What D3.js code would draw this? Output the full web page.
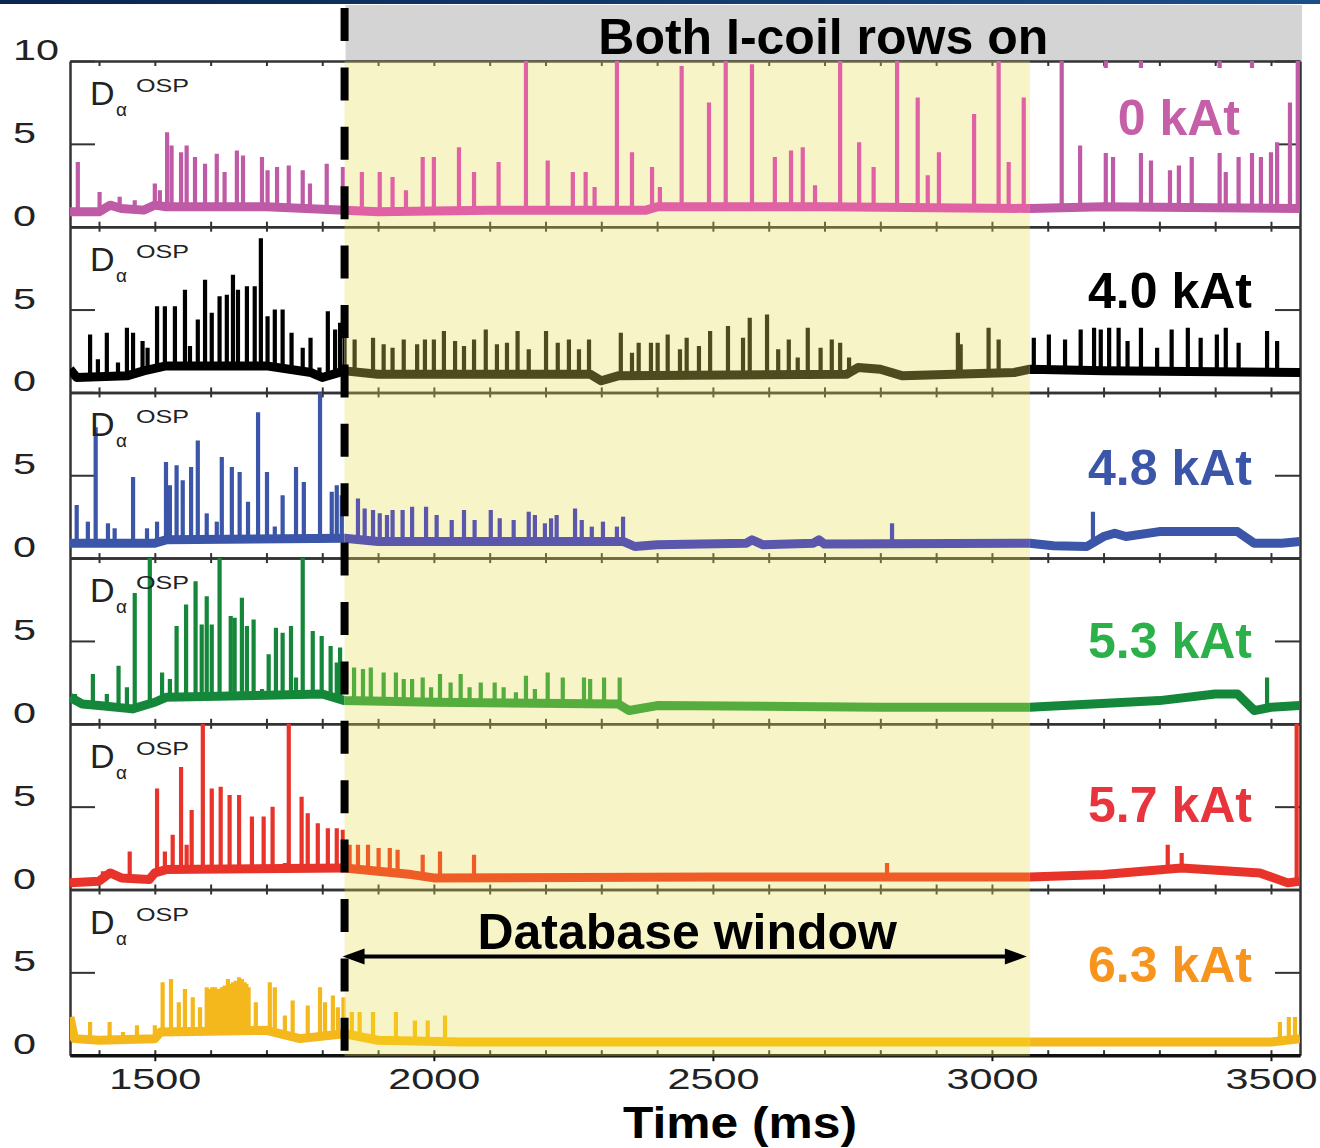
<!DOCTYPE html>
<html>
<head>
<meta charset="utf-8">
<script src="https://cdn.jsdelivr.net/npm/d3@7"></script>
<style>
  body { margin: 0; background: #fff; }
  svg { display: block; font-family: "Liberation Sans", Arial, sans-serif; }
</style>
</head>
<body>
<svg id="chart" width="1320" height="1148"></svg>
<script>
// ---- data ----
const timeDomain = [1348, 3552];          // ms
const databaseWindow = [1840, 3068];      // ms, I-coil flat-top used for database
const xTickValues = [1500, 2000, 2500, 3000, 3500];
const xMinorTicks = [1400, 1500, 1600, 1700, 1800, 1900, 2000, 2100, 2200, 2300, 2400,
  2500, 2600, 2700, 2800, 2900, 3000, 3100, 3200, 3300, 3400, 3500];
const yTickValues = [0, 5, 10];
const coilCurrents = ["0 kAt", "4.0 kAt", "4.8 kAt", "5.3 kAt", "5.7 kAt", "6.3 kAt"];

// baseline level of each D-alpha trace [time, value]
const baseline0 = [[1348, 0.9], [1400, 0.9], [1420, 1.3], [1440, 1.1], [1480, 1.0], [1500, 1.3], [1520, 1.2],
  [1700, 1.2], [1840, 1.0], [1900, 0.9], [2100, 1.0], [2380, 1.0], [2400, 1.2], [2700, 1.2], [3068, 1.1],
  [3200, 1.2], [3552, 1.1]];
const baseline1 = [[1348, 1.4], [1360, 0.9], [1450, 1.0], [1480, 1.3], [1520, 1.6], [1700, 1.6], [1780, 1.2],
  [1800, 0.9], [1840, 1.3], [1900, 1.1], [2280, 1.1], [2300, 0.7], [2330, 1.0], [2740, 1.1], [2760, 1.5],
  [2800, 1.4], [2840, 1.0], [3040, 1.2], [3068, 1.4], [3200, 1.3], [3552, 1.2]];
const baseline2 = [[1348, 0.9], [1500, 0.9], [1520, 1.1], [1840, 1.2], [1900, 1.0], [2340, 1.0], [2360, 0.7],
  [2400, 0.8], [2560, 0.9], [2570, 1.1], [2590, 0.8], [2680, 0.9], [2690, 1.1], [2700, 0.85], [3068, 0.9],
  [3110, 0.75], [3170, 0.7], [3200, 1.3], [3220, 1.5], [3240, 1.3], [3300, 1.6], [3440, 1.6], [3470, 0.9],
  [3520, 0.9], [3552, 1.0]];
const baseline3 = [[1348, 1.6], [1370, 1.2], [1400, 1.1], [1460, 0.9], [1500, 1.3], [1520, 1.6], [1800, 1.8],
  [1840, 1.4], [2000, 1.3], [2330, 1.2], [2350, 0.8], [2400, 1.1], [2800, 1.0], [3068, 1.0], [3300, 1.4],
  [3400, 1.8], [3440, 1.8], [3470, 0.8], [3500, 1.0], [3552, 1.1]];
const baseline4 = [[1348, 0.4], [1400, 0.5], [1420, 1.0], [1440, 0.7], [1490, 0.6], [1500, 1.0], [1520, 1.2],
  [1840, 1.3], [1960, 0.9], [2000, 0.7], [2500, 0.75], [3068, 0.75], [3200, 0.9], [3340, 1.3], [3480, 1.0],
  [3530, 0.4], [3552, 0.5]];
const baseline5 = [[1348, 2.3], [1356, 1.0], [1400, 0.9], [1500, 1.0], [1510, 1.4], [1700, 1.5], [1760, 1.0],
  [1840, 1.3], [1900, 0.9], [2050, 0.8], [3068, 0.8], [3500, 0.8], [3552, 1.0]];

// ELM spikes [time, peak value]
const spikes0 = [[1362, 3.9], [1401, 2.1], [1437, 1.8], [1464, 1.6], [1500, 2.6], [1509, 2.2], [1522, 5.7],
  [1530, 4.9], [1547, 4.5], [1557, 4.9], [1572, 4.2], [1590, 3.8], [1611, 4.4], [1625, 3.3], [1647, 4.6],
  [1658, 4.3], [1692, 4.2], [1702, 3.4], [1719, 3.6], [1740, 3.7], [1765, 3.4], [1778, 2.6], [1808, 3.8],
  [1837, 3.6], [1871, 3.3], [1903, 3.3], [1926, 3.0], [1950, 2.2], [1980, 4.2], [2000, 4.2], [2045, 4.8],
  [2072, 3.3], [2116, 3.9], [2165, 11], [2204, 4.0], [2249, 3.3], [2272, 3.3], [2288, 2.4], [2328, 11],
  [2355, 4.5], [2391, 3.6], [2405, 2.4], [2444, 9.7], [2493, 7.5], [2523, 11], [2570, 9.8], [2611, 4.2],
  [2640, 4.6], [2661, 4.8], [2683, 2.5], [2728, 11], [2762, 5.1], [2788, 3.6], [2830, 11], [2867, 7.8],
  [2885, 3.1], [2905, 4.5], [2968, 6.8], [3012, 11], [3030, 3.9], [3057, 7.8], [3125, 11], [3158, 4.9],
  [3204, 11], [3217, 4.2], [3267, 11], [3285, 4.0], [3319, 3.4], [3335, 3.7], [3358, 4.2], [3408, 11],
  [3419, 3.3], [3442, 4.2], [3466, 11], [3482, 4.2], [3500, 4.5], [3511, 5.1], [3534, 7.5], [3548, 11]];
const spikes1 = [[1384, 3.5], [1398, 2.0], [1414, 3.6], [1434, 1.8], [1450, 3.9], [1461, 3.6], [1478, 3.1],
  [1487, 2.7], [1504, 5.2], [1518, 5.2], [1536, 5.2], [1554, 6.2], [1563, 2.8], [1577, 4.4], [1590, 6.8],
  [1602, 4.8], [1616, 5.8], [1629, 5.9], [1640, 7.1], [1649, 6.2], [1665, 6.4], [1679, 6.4], [1690, 9.3],
  [1702, 4.6], [1715, 5.0], [1729, 5.0], [1745, 3.6], [1765, 2.7], [1779, 3.3], [1795, 1.5], [1810, 4.9],
  [1823, 3.8], [1832, 4.2], [1840, 3.9], [1858, 3.2], [1891, 3.3], [1910, 2.9], [1926, 2.7], [1946, 3.2],
  [1970, 2.9], [1984, 3.2], [2000, 3.2], [2018, 3.7], [2038, 3.1], [2054, 2.8], [2072, 3.2], [2093, 3.8],
  [2113, 2.9], [2131, 3.0], [2150, 3.7], [2170, 2.6], [2201, 3.7], [2222, 3.0], [2242, 3.2], [2260, 2.6],
  [2278, 3.2], [2335, 3.6], [2355, 2.4], [2367, 3.0], [2389, 3.0], [2401, 3.0], [2419, 3.5], [2441, 2.6],
  [2453, 3.3], [2475, 2.8], [2495, 3.7], [2527, 4.0], [2554, 3.3], [2566, 4.5], [2597, 4.7], [2617, 2.6],
  [2636, 3.2], [2652, 2.1], [2670, 3.9], [2693, 2.7], [2713, 3.2], [2728, 3.0], [2744, 2.1], [2939, 3.6],
  [2944, 2.9], [2994, 3.9], [3012, 3.2], [3075, 3.3], [3102, 3.5], [3131, 3.2], [3159, 3.8], [3183, 3.9],
  [3195, 3.8], [3210, 3.9], [3227, 3.9], [3243, 3.1], [3267, 3.9], [3296, 2.7], [3322, 3.8], [3351, 3.9],
  [3374, 3.3], [3403, 3.5], [3419, 3.9], [3442, 3.0], [3493, 3.7], [3511, 3.1]];
const spikes2 = [[1360, 3.2], [1380, 2.2], [1394, 7.9], [1416, 2.1], [1428, 1.8], [1461, 4.9], [1486, 1.8],
  [1504, 2.2], [1520, 5.8], [1527, 4.4], [1539, 5.6], [1550, 4.7], [1565, 5.5], [1577, 7.1], [1593, 2.7],
  [1611, 2.2], [1620, 6.1], [1638, 5.5], [1652, 5.2], [1667, 3.4], [1685, 8.8], [1701, 5.2], [1715, 1.9],
  [1729, 3.8], [1753, 5.5], [1767, 4.6], [1796, 11], [1817, 4.0], [1826, 4.4], [1835, 3.8], [1864, 3.6],
  [1876, 3.0], [1891, 2.9], [1903, 2.7], [1916, 2.6], [1926, 2.9], [1944, 2.9], [1961, 3.1], [1986, 3.1],
  [2005, 2.6], [2032, 2.3], [2054, 2.9], [2073, 2.3], [2102, 2.9], [2118, 2.4], [2143, 2.3], [2170, 2.8],
  [2181, 2.6], [2199, 2.1], [2210, 2.4], [2220, 2.6], [2253, 3.0], [2265, 2.3], [2283, 1.9], [2303, 2.2],
  [2328, 1.9], [2339, 2.5], [2821, 2.1], [3181, 2.8]];
const spikes3 = [[1357, 1.8], [1389, 3.0], [1414, 1.8], [1435, 3.5], [1450, 2.2], [1464, 7.9], [1491, 11],
  [1513, 3.1], [1527, 2.7], [1539, 5.9], [1556, 7.2], [1573, 8.6], [1584, 6.0], [1593, 7.7], [1602, 6.0],
  [1616, 11], [1636, 6.5], [1643, 6.4], [1656, 7.6], [1665, 5.9], [1677, 6.3], [1692, 2.1], [1704, 4.2],
  [1717, 5.8], [1729, 5.5], [1744, 5.9], [1753, 2.8], [1765, 11], [1783, 5.6], [1799, 5.3], [1815, 4.7],
  [1826, 3.7], [1832, 4.6], [1857, 3.4], [1873, 3.3], [1887, 3.4], [1910, 3.1], [1932, 3.1], [1946, 2.7],
  [1961, 2.7], [1980, 2.8], [1995, 2.2], [2011, 3.0], [2030, 2.5], [2048, 3.0], [2064, 2.2], [2084, 2.5],
  [2109, 2.5], [2125, 2.2], [2147, 1.9], [2165, 2.9], [2181, 2.1], [2204, 3.1], [2231, 2.8], [2269, 2.8],
  [2280, 2.7], [2305, 2.8], [2333, 2.8], [3493, 2.8]];
const spikes4 = [[1407, 1.1], [1419, 1.2], [1455, 2.3], [1504, 6.1], [1518, 2.3], [1532, 3.3], [1547, 7.4],
  [1557, 2.7], [1566, 4.8], [1586, 11], [1602, 6.1], [1618, 6.2], [1634, 5.7], [1651, 5.7], [1674, 4.4],
  [1695, 4.4], [1711, 5.0], [1733, 1.6], [1740, 11], [1763, 5.6], [1774, 4.6], [1792, 4.0], [1810, 3.7],
  [1826, 3.7], [1837, 3.6], [1849, 2.7], [1864, 2.7], [1882, 2.7], [1901, 2.5], [1921, 2.5], [1935, 2.4],
  [1980, 2.1], [2011, 2.3], [2072, 2.1], [2812, 1.6], [3315, 2.7], [3340, 2.2], [3546, 11]];
const spikes5 = [[1384, 2.0], [1419, 2.0], [1443, 1.4], [1468, 1.8], [1500, 1.8], [1514, 4.4], [1529, 4.6],
  [1543, 3.2], [1554, 4.0], [1568, 3.5], [1581, 2.9], [1593, 4.1], [1597, 4.0], [1603, 4.1], [1608, 4.1],
  [1613, 4.0], [1620, 4.1], [1625, 4.2], [1631, 4.6], [1636, 4.3], [1640, 4.4], [1645, 4.5], [1651, 4.7],
  [1656, 4.6], [1661, 4.4], [1664, 4.3], [1668, 4.1], [1681, 3.2], [1706, 4.4], [1715, 4.1], [1733, 2.4],
  [1747, 3.3], [1774, 3.0], [1796, 4.1], [1805, 3.2], [1819, 3.6], [1828, 2.9], [1838, 3.5], [1853, 2.6],
  [1867, 2.6], [1891, 2.6], [1932, 2.6], [1966, 2.1], [1989, 2.1], [2020, 2.4], [3516, 2.0], [3532, 2.3],
  [3543, 2.3]];

const baselines = [baseline0, baseline1, baseline2, baseline3, baseline4, baseline5];
const spikes = [spikes0, spikes1, spikes2, spikes3, spikes4, spikes5];

// ---- styling / layout ----
const traceOutside = ["#bf5aa6", "#000000", "#3b55a8", "#15873a", "#e8332a", "#f4b81c"];
const traceInside = ["#e062a4", "#4d4b1f", "#5b57ad", "#55ad3e", "#f05c26", "#f6c51c"];
const labelColors = ["#c55fa8", "#000000", "#3b55a8", "#2bb04a", "#e8353d", "#f7941e"];
const labelBaseline = [74, 81, 93, 100, 98, 92]; // px below panel top
const labelRight = [1240, 1252, 1252, 1252, 1252, 1252];

const left = 70, right = 1300, plotTop = 61, panelH = 165.7;
const axisColor = "#333";
const svg = d3.select("#chart");
const defs = svg.append("defs");

const x = d3.scaleLinear().domain(timeDomain).range([left, right]);
const panelTop = (i) => plotTop + i * panelH;
const yScales = coilCurrents.map((_, i) =>
  d3.scaleLinear().domain([0, 10]).range([panelTop(i) + panelH, panelTop(i)]));
const xw0 = x(databaseWindow[0]), xw1 = x(databaseWindow[1]);

svg.append("rect").attr("width", 1320).attr("height", 1148).attr("fill", "#fff");

// top banner strip
const grad = defs.append("linearGradient").attr("id", "band");
grad.append("stop").attr("offset", "0%").attr("stop-color", "#0a2550");
grad.append("stop").attr("offset", "100%").attr("stop-color", "#1b4f8a");
svg.append("rect").attr("width", 1320).attr("height", 4).attr("fill", "url(#band)");

// "Both I-coil rows on" box
svg.append("rect").attr("x", xw0 + 1).attr("y", 5).attr("width", right + 2 - xw0 - 1).attr("height", plotTop - 5)
  .attr("fill", "#d4d4d4");
svg.append("text").attr("x", (xw0 + right + 2) / 2).attr("y", 54).attr("text-anchor", "middle")
  .attr("font-size", 50).attr("font-weight", "bold").attr("fill", "#000").text("Both I-coil rows on");

// clip paths
coilCurrents.forEach((_, i) => {
  const t = panelTop(i);
  defs.append("clipPath").attr("id", `in${i}`).append("rect")
    .attr("x", xw0).attr("y", t).attr("width", xw1 - xw0).attr("height", panelH);
  const out = defs.append("clipPath").attr("id", `out${i}`);
  out.append("rect").attr("x", left).attr("y", t).attr("width", xw0 - left).attr("height", panelH);
  out.append("rect").attr("x", xw1).attr("y", t).attr("width", right - xw1).attr("height", panelH);
});

// axes / frames
const axesLayer = svg.append("g");
coilCurrents.forEach((_, i) => {
  const y = yScales[i];
  const t = panelTop(i), b = t + panelH;
  const g = axesLayer.append("g");
  g.append("g").attr("transform", `translate(0,${b})`)
    .call(d3.axisBottom(x).tickValues(xMinorTicks).tickSize(-5).tickSizeOuter(0).tickFormat(""));
  g.append("g").attr("transform", `translate(0,${t})`)
    .call(d3.axisTop(x).tickValues(xMinorTicks).tickSize(-5).tickSizeOuter(0).tickFormat(""));
  g.append("g").attr("transform", `translate(${left},0)`)
    .call(d3.axisLeft(y).tickValues(yTickValues).tickSize(-25).tickSizeOuter(0).tickFormat(""));
  g.append("g").attr("transform", `translate(${right},0)`)
    .call(d3.axisRight(y).tickValues(yTickValues).tickSize(-25).tickSizeOuter(0).tickFormat(""));
  g.selectAll("path.domain").attr("stroke", axisColor).attr("stroke-width", 2.5);
  g.selectAll(".tick line").attr("stroke", axisColor).attr("stroke-width", 2);
});

// bottom time axis with labels
const lastBottom = panelTop(5) + panelH;
const xAxis = svg.append("g").attr("transform", `translate(0,${lastBottom})`)
  .call(d3.axisBottom(x).tickValues(xTickValues).tickSize(6).tickSizeOuter(0).tickFormat(d3.format("d")));
xAxis.select("path.domain").attr("stroke", "#111").attr("stroke-width", 3.5);
xAxis.selectAll(".tick line").attr("stroke", "#111").attr("stroke-width", 2);
xAxis.selectAll(".tick text").attr("y", 34).attr("dy", null).attr("font-size", 30)
  .attr("font-family", "'Liberation Sans', Arial, sans-serif").attr("fill", "#222")
  .attr("textLength", 92).attr("lengthAdjust", "spacingAndGlyphs");

// database window shading (translucent, tints the axes too)
svg.append("rect").attr("x", xw0).attr("y", plotTop).attr("width", xw1 - xw0)
  .attr("height", lastBottom - plotTop + 1).attr("fill", "rgb(230,222,80)").attr("opacity", 0.32);

// traces
const traceLayer = svg.append("g");
function drawTrace(g, i, color) {
  const y = yScales[i];
  const base = baselines[i];
  const baseAt = d3.scaleLinear().domain(base.map((d) => d[0])).range(base.map((d) => d[1])).clamp(true);
  g.append("path").datum(base)
    .attr("d", d3.line().x((d) => x(d[0])).y((d) => y(d[1])))
    .attr("fill", "none").attr("stroke", color).attr("stroke-width", 9).attr("stroke-linejoin", "round");
  g.selectAll("line").data(spikes[i]).join("line")
    .attr("x1", (d) => x(d[0])).attr("x2", (d) => x(d[0]))
    .attr("y1", (d) => y(baseAt(d[0])) + 2).attr("y2", (d) => y(d[1]))
    .attr("stroke", color).attr("stroke-width", 4.2);
}
coilCurrents.forEach((_, i) => {
  drawTrace(traceLayer.append("g").attr("clip-path", `url(#out${i})`), i, traceOutside[i]);
  drawTrace(traceLayer.append("g").attr("clip-path", `url(#in${i})`), i, traceInside[i]);
});

// panel labels
const labelLayer = svg.append("g");
coilCurrents.forEach((name, i) => {
  const t = panelTop(i);
  const yb = t + labelBaseline[i];
  labelLayer.append("rect").attr("x", 1098).attr("y", yb - 67).attr("width", 168).attr("height", 85)
    .attr("fill", "#fff");
  labelLayer.append("text").attr("x", labelRight[i]).attr("y", yb).attr("text-anchor", "end")
    .attr("font-size", 50).attr("font-weight", "bold").attr("fill", labelColors[i]).text(name);

  labelLayer.append("text").attr("x", 90).attr("y", t + 44).attr("font-size", 34).attr("fill", "#222").text("D");
  labelLayer.append("text").attr("x", 116).attr("y", t + 55).attr("font-size", 19).attr("fill", "#222").text("α");
  labelLayer.append("text").attr("x", 136).attr("y", t + 31).attr("font-size", 18).attr("fill", "#222")
    .attr("textLength", 53).attr("lengthAdjust", "spacingAndGlyphs").text("OSP");

  const y = yScales[i];
  const shown = i === 0 ? yTickValues : yTickValues.filter((v) => v < 10);
  shown.forEach((v) => {
    const s = String(v);
    labelLayer.append("text").attr("x", 13).attr("y", y(v) - 1).attr("font-size", 30).attr("fill", "#222")
      .attr("textLength", 23 * s.length).attr("lengthAdjust", "spacingAndGlyphs").text(s);
  });
});

svg.append("text").attr("x", 740).attr("y", 1138).attr("text-anchor", "middle")
  .attr("font-size", 45).attr("font-weight", "bold").attr("fill", "#000")
  .attr("textLength", 234).attr("lengthAdjust", "spacingAndGlyphs").text("Time (ms)");

// dashed line marking the window start
svg.append("line").attr("x1", xw0).attr("x2", xw0).attr("y1", 8).attr("y2", lastBottom)
  .attr("stroke", "#000").attr("stroke-width", 8).attr("stroke-dasharray", "33 26.4");

// database window arrow
const ay = panelTop(5) + 67;
svg.append("line").attr("x1", xw0 + 12).attr("x2", xw1 - 14).attr("y1", ay).attr("y2", ay)
  .attr("stroke", "#000").attr("stroke-width", 4);
svg.append("path").attr("d", `M${xw0 - 2},${ay} L${xw0 + 20},${ay - 8} L${xw0 + 20},${ay + 8} Z`).attr("fill", "#000");
svg.append("path").attr("d", `M${xw1 - 3},${ay} L${xw1 - 25},${ay - 8} L${xw1 - 25},${ay + 8} Z`).attr("fill", "#000");
svg.append("text").attr("x", (xw0 + xw1) / 2).attr("y", 949).attr("text-anchor", "middle")
  .attr("font-size", 50).attr("font-weight", "bold").attr("fill", "#000").text("Database window");
</script>
</body>
</html>
